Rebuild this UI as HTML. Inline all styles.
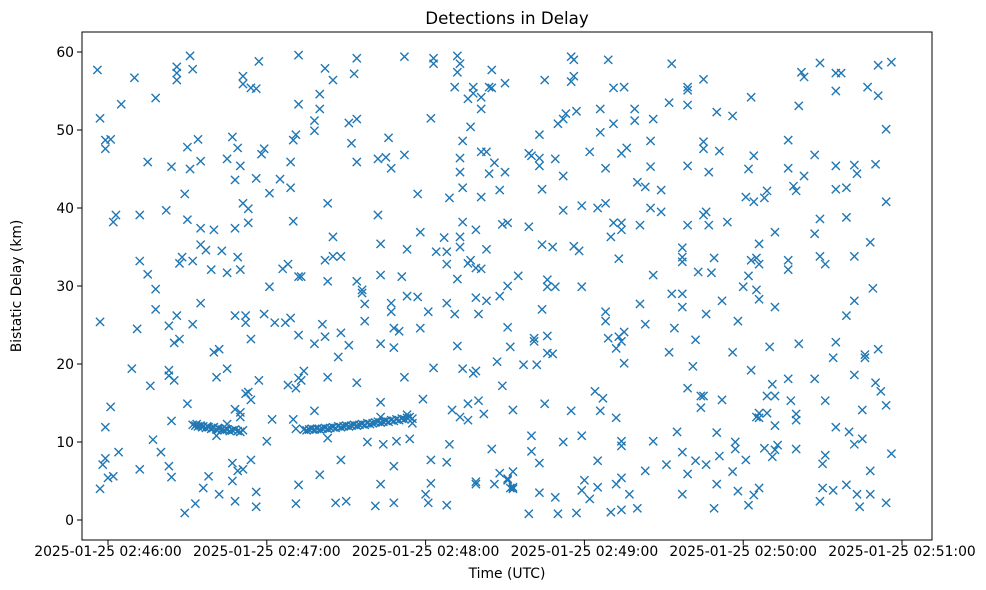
<!DOCTYPE html>
<html><head><meta charset="utf-8"><style>
html,body{margin:0;padding:0;background:#fff;}
svg{display:block;font-family:"DejaVu Sans","Liberation Sans",sans-serif;}
</style></head><body>
<svg id="chart" width="986" height="590" viewBox="0 0 986 590" xmlns="http://www.w3.org/2000/svg">
<rect x="0" y="0" width="986" height="590" fill="#fff"/>
<text x="507" y="24" font-size="16.7" text-anchor="middle" fill="#000">Detections in Delay</text>
<g id="marks"></g>
<rect x="82" y="32" width="850" height="508" fill="none" stroke="#000" stroke-width="1"/>
<g id="xaxis"></g>
<g id="yaxis"></g>
<text x="507" y="578" font-size="13.9" text-anchor="middle" fill="#000">Time (UTC)</text>
<text x="0" y="0" transform="translate(21,286) rotate(-90)" font-size="13.9" text-anchor="middle" fill="#000">Bistatic Delay (km)</text>
</svg>
<script>
// seconds after 2025-01-25 02:46:00 UTC
const times = [-4,10,26,26,26,31,32,57,51,51,54,56,72,5,18,-3,72,-1,1,-1,30,34,47,49,59,58,71,70,15,24,31,35,45,50,48,56,65,61,69,69,29,51,53,3,2,12,22,30,35,40,48,53,70,35,37,43,49,28,27,32,12,15,39,45,50,66,68,72,61,18,18,35,-3,11,23,26,32,48,52,52,59,63,67,69,72,54,25,27,40,42,9,23,23,25,45,41,16,57,68,71,72,52,53,54,30,1,48,50,50,24,-1,62,70,71,41,45,17,60,4,20,-1,-2,0,2,-3,12,23,24,38,47,49,51,54,47,36,42,56,48,33,29,56,71,72,
32,33,33.5,34,35,35.5,36,37,37.5,38,39,39.5,40,41,41.5,42,43,44,44.5,45,46,47,48,49,50,51,
94,112,123,123,132,133,132,82,85,93,145,150,131,138,138,136,141,141,144,145,80,80,78,78,91,94,122,137,92,106,134,94,102,105,107,112,133,133,141,143,146,144,150,134,141,148,117,129,83,102,134,139,149,85,103,118,113,127,124,128,128,133,133,136,137,139,141,143,82,85,88,73,83,94,96,96,103,111,132,151,148,113,117,97,107,107,121,128,131,139,143,140,97,108,110,118,151,81,82,78,88,91,87,103,108,132,152,74,73,83,94,112,123,134,139,138,147,149,119,103,78,130,136,140,133,136,142,153,103,113,115,83,98,104,109,114,129,145,88,122,128,108,80,103,122,139,139,146,148,151,152,86,90,101,108,120,121,128,
74,75,76,77,78,79,80,81,82,83,84,85,86,87,88,89,90,91,92,93,94,95,96,97,98,99,100,101,102,103,104,105,106,107,108,109,110,111,112,113,114,115,
165,175,176,175,176,189,191,195,213,219,219,225,212,219,230,186,199,199,206,170,172,173,177,186,191,163,205,225,225,231,159,160,163,163,169,182,194,196,188,205,219,227,172,200,203,209,164,172,179,185,188,205,209,225,226,151,159,191,194,194,190,201,219,227,164,168,176,178,193,217,217,217,229,223,228,206,155,166,166,169,179,213,217,217,232,164,188,188,201,226,203,214,161,161,166,189,193,195,194,192,222,166,168,157,162,212,195,221,184,187,219,224,225,224,232,165,175,186,192,160,160,163,172,179,194,194,206,215,230,217,231,185,203,211,222,226,219,153,151,153,153,163,169,179,180,182,185,192,194,197,217,230,159,170,177,190,194,200,229,
269,262,263,275,277,275,291,296,287,291,243,261,236,294,257,244,242,257,263,267,275,282,283,290,241,244,248,249,259,260,275,279,294,234,269,279,252,267,288,246,243,245,246,257,257,269,271,282,242,240,245,246,252,289,282,238,279,236,250,261,275,274,286,286,291,243,251,257,267,282,290,292,249,252,258,271,285,294,245,246,246,249,252,260,260,275,280,282,285,237,237,248,251,252,253,260,241,271,270,296,236,288,238,244,246,270,274,279,283,288,242,269,284,294];
// bistatic delay in km
const delays = [57.7,56.7,58.1,57.3,56.4,59.5,57.8,58.8,56.9,55.9,55.4,55.3,59.6,53.3,54.1,51.5,53.3,48.7,48.8,47.6,47.8,48.8,49.1,47.7,47.6,46.9,49.4,48.7,45.9,45.3,45.0,46.0,46.3,45.4,43.6,43.8,43.7,41.9,45.9,42.6,41.8,40.6,39.9,39.1,38.2,39.1,39.7,38.5,37.4,37.2,37.4,38.1,38.3,35.3,34.6,34.5,33.7,33.7,32.9,33.2,33.2,31.5,32.1,31.7,32.1,32.2,32.8,31.2,29.9,29.6,27.0,27.8,25.4,24.5,24.9,26.2,25.1,26.2,26.2,25.3,26.4,25.3,25.3,25.9,23.7,23.2,22.7,23.2,21.5,21.9,19.4,19.2,18.5,17.9,19.4,18.3,17.2,17.9,17.3,16.9,18.2,16.2,16.4,15.4,14.9,14.5,14.2,13.8,13.2,12.7,11.9,12.9,12.9,11.7,10.8,12.3,10.3,10.1,8.7,8.7,7.9,7.1,5.4,5.6,4.0,6.5,6.9,5.5,5.6,7.3,6.3,6.5,7.7,5.0,4.1,3.3,3.6,2.4,2.1,0.9,1.7,2.1,4.5,
12.2,12.1,12.3,12.0,12.1,11.9,12.0,11.8,12.0,11.9,11.7,11.8,11.9,11.6,11.8,11.7,11.6,11.5,11.7,11.6,11.4,11.5,11.6,11.4,11.3,11.5,
59.2,59.4,59.2,58.5,59.5,58.5,57.4,57.9,56.4,57.2,57.7,56.0,55.5,55.5,54.7,54.0,54.2,52.7,55.5,55.4,54.6,52.7,51.2,49.9,50.9,51.4,51.5,50.4,48.3,49.0,48.6,45.9,46.3,46.5,45.1,46.8,46.4,44.6,47.2,47.2,45.8,44.4,44.6,42.6,41.4,42.3,41.8,41.3,40.6,39.1,38.2,37.2,37.9,36.3,35.4,36.9,34.7,36.2,34.4,34.4,32.8,36.3,35.0,32.9,33.3,32.3,32.2,34.7,33.3,33.8,33.8,31.2,30.6,30.6,29.5,29.1,31.4,31.2,30.9,30.0,28.7,28.7,28.6,27.7,27.8,26.7,26.7,27.8,26.4,28.5,28.1,26.4,25.5,24.6,24.2,24.6,24.7,25.1,23.5,22.6,24.0,22.4,20.9,22.6,22.1,22.3,22.2,19.1,17.9,18.3,17.6,18.3,19.5,19.4,19.1,18.8,20.3,17.2,15.5,15.1,14.0,14.1,14.9,15.3,13.2,12.8,13.6,14.1,13.2,13.5,12.4,10.5,10.0,9.7,10.1,10.4,9.7,9.1,7.7,7.7,7.4,6.9,5.8,4.6,4.7,4.9,4.6,4.6,6.0,5.1,4.1,2.2,2.4,1.8,2.2,3.3,2.2,1.9,
11.6,11.5,11.6,11.7,11.6,11.7,11.6,11.7,11.8,11.7,11.8,11.9,11.8,12.0,11.9,12.0,12.1,12.0,12.1,12.2,12.1,12.2,12.3,12.2,12.4,12.3,12.4,12.5,12.6,12.5,12.6,12.7,12.6,12.8,12.7,12.9,12.8,13.0,12.9,13.1,13.2,13.0,
56.4,59.4,59.0,56.2,56.9,59.0,55.4,55.5,58.5,55.5,55.1,56.5,53.5,53.2,52.3,52.7,52.7,51.2,51.4,50.8,51.4,52.1,52.4,49.7,50.8,49.4,48.6,48.5,47.6,47.3,47.0,46.7,46.4,45.4,46.3,47.2,47.0,47.7,45.1,45.3,45.4,44.6,44.1,43.3,42.7,42.3,42.4,39.7,40.3,40.0,40.6,40.0,39.5,39.1,39.5,38.1,37.6,38.1,38.1,37.2,36.3,37.8,37.8,37.8,35.3,35.0,35.1,34.5,33.5,34.9,33.7,33.1,33.6,31.8,31.7,31.4,31.3,30.8,29.9,29.9,29.9,29.0,29.0,27.3,28.1,27.0,26.7,25.5,27.7,26.4,25.1,24.6,23.3,22.9,23.6,23.3,23.5,24.1,22.9,22.0,23.1,21.4,21.3,19.9,19.9,21.5,20.1,19.7,16.5,15.6,16.9,15.9,15.9,14.4,15.4,14.9,14.0,14.0,13.1,10.8,8.8,7.3,10.0,10.8,10.1,9.5,10.1,11.3,11.2,8.7,8.2,7.6,6.3,7.1,7.6,7.1,5.9,6.2,5.3,4.2,4.0,3.5,2.9,3.8,5.1,2.7,4.2,4.6,5.4,3.3,3.3,4.6,0.8,0.8,0.9,1.0,1.3,1.5,1.5,
58.6,57.4,56.8,57.3,57.3,55.0,58.3,58.7,55.5,54.4,54.2,53.1,51.8,50.1,48.7,46.7,45.0,45.1,44.1,46.8,45.4,45.5,44.4,45.6,41.4,40.8,41.3,42.2,42.8,42.2,42.4,42.6,40.8,38.2,38.6,38.8,36.9,36.7,35.6,35.4,33.3,33.6,32.8,33.3,32.1,33.8,32.8,33.8,31.3,29.9,29.5,28.3,27.3,29.7,28.1,25.5,26.2,21.5,22.2,22.6,22.8,20.8,21.2,20.8,21.9,19.2,17.4,18.1,18.1,18.6,17.6,16.5,15.9,15.9,15.3,15.3,14.1,14.7,13.2,13.1,13.7,13.7,12.1,12.8,13.6,11.9,11.3,9.7,10.4,10.0,9.1,9.2,8.1,9.0,9.6,9.1,7.7,8.3,7.2,8.5,6.2,6.3,3.7,3.2,4.1,4.1,3.8,4.5,3.3,3.3,1.9,2.4,1.7,2.2];
const xTickSeconds = [0,60,120,180,240,300];
const xTickLabels = ["2025-01-25 02:46:00","2025-01-25 02:47:00","2025-01-25 02:48:00","2025-01-25 02:49:00","2025-01-25 02:50:00","2025-01-25 02:51:00"];
const yTicks = [0,10,20,30,40,50,60];

const NS = "http://www.w3.org/2000/svg";
function xScale(s){ return 108 + s * (794/300); }
function yScale(v){ return 520 - v * 7.8; }

const marks = document.getElementById('marks');
const n = Math.min(times.length, delays.length);
for (let i = 0; i < n; i++) {
  const cx = xScale(times[i]), cy = yScale(delays[i]), r = 4.1;
  const p = document.createElementNS(NS, 'path');
  p.setAttribute('d', `M${cx-r},${cy-r}L${cx+r},${cy+r}M${cx-r},${cy+r}L${cx+r},${cy-r}`);
  p.setAttribute('stroke', '#1f77b4');
  p.setAttribute('stroke-width', '1.4');
  p.setAttribute('fill', 'none');
  
  
  marks.appendChild(p);
}

const xaxis = document.getElementById('xaxis');
xTickSeconds.forEach((s, i) => {
  const x = xScale(s);
  const t = document.createElementNS(NS, 'line');
  t.setAttribute('x1', x); t.setAttribute('x2', x);
  t.setAttribute('y1', 540); t.setAttribute('y2', 545);
  t.setAttribute('stroke', '#000'); t.setAttribute('stroke-width', '1');
  
  
  xaxis.appendChild(t);
  const lb = document.createElementNS(NS, 'text');
  lb.setAttribute('x', x); lb.setAttribute('y', 556);
  lb.setAttribute('font-size', '13.9'); lb.setAttribute('text-anchor', 'middle');
  lb.textContent = xTickLabels[i];
  
  
  xaxis.appendChild(lb);
});

const yaxis = document.getElementById('yaxis');
yTicks.forEach(v => {
  const y = yScale(v);
  const t = document.createElementNS(NS, 'line');
  t.setAttribute('x1', 77); t.setAttribute('x2', 82);
  t.setAttribute('y1', y); t.setAttribute('y2', y);
  t.setAttribute('stroke', '#000'); t.setAttribute('stroke-width', '1');
  
  
  yaxis.appendChild(t);
  const lb = document.createElementNS(NS, 'text');
  lb.setAttribute('x', 74); lb.setAttribute('y', y + 5);
  lb.setAttribute('font-size', '13.9'); lb.setAttribute('text-anchor', 'end');
  lb.textContent = String(v);
  
  
  yaxis.appendChild(lb);
});
</script>
</body></html>
